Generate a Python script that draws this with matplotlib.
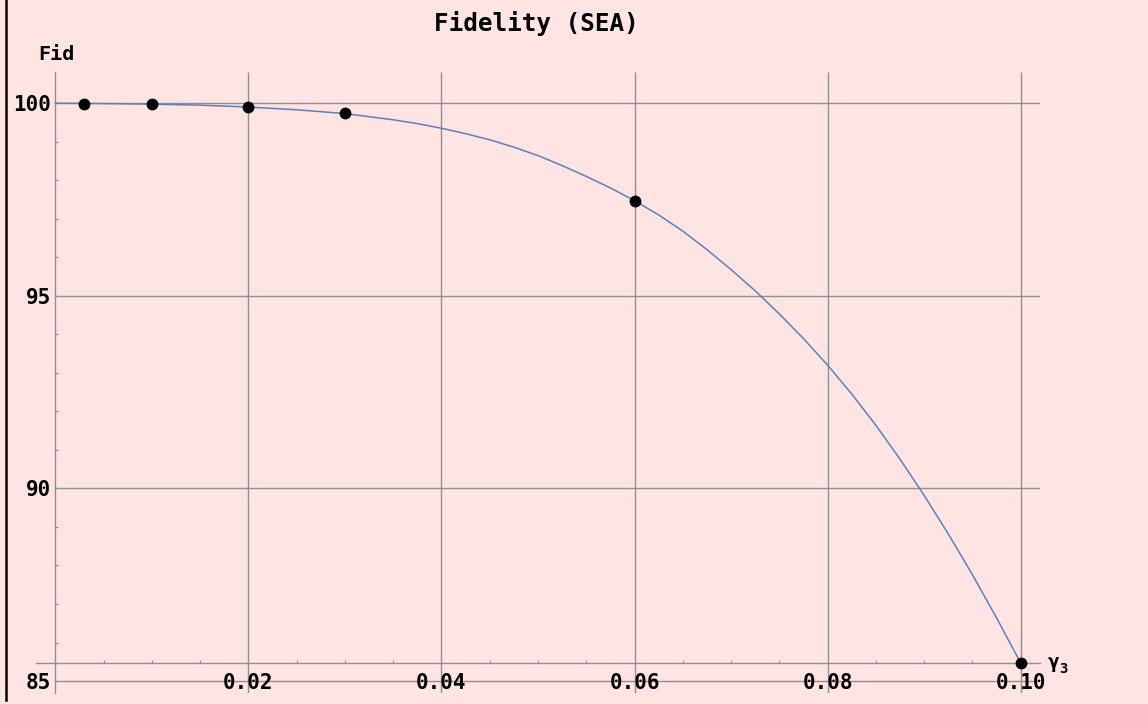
"""Fidelity (SEA) curve versus gamma_3, Mathematica-like styling."""

import matplotlib
matplotlib.use("Agg")
import matplotlib.pyplot as plt
from matplotlib.lines import Line2D
from matplotlib.transforms import offset_copy

# curve
curve_gamma = [0.0, 0.005, 0.01, 0.015, 0.02, 0.025, 0.03, 0.035, 0.0375, 0.04,
               0.0425, 0.045, 0.0475, 0.05, 0.0525, 0.055, 0.0575, 0.06, 0.0625,
               0.065, 0.0675, 0.07, 0.0725, 0.075, 0.0775, 0.08, 0.0825, 0.085,
               0.0875, 0.09, 0.0925, 0.095, 0.0975, 0.1]
curve_fid = [100.0, 99.99, 99.975, 99.95, 99.90, 99.83, 99.73, 99.57, 99.47, 99.35,
             99.21, 99.05, 98.86, 98.64, 98.38, 98.10, 97.80, 97.47, 97.10,
             96.68, 96.20, 95.68, 95.13, 94.53, 93.89, 93.20, 92.45, 91.64,
             90.76, 89.82, 88.82, 87.76, 86.64, 85.47]

# computed points
point_gamma = [0.003, 0.01, 0.02, 0.03, 0.06, 0.10]
point_fid = [99.98, 99.97, 99.90, 99.74, 97.46, 85.47]

x_ticks = [0.02, 0.04, 0.06, 0.08, 0.10]
x_labels = ["0.02", "0.04", "0.06", "0.08", "0.10"]
y_ticks = [85, 90, 95, 100]
y_labels = ["85", "90", "95", "100"]

BG = "#FFE4E4"
GRID = "#8F8F8F"
FONT = "DejaVu Sans Mono"
W, H = 1148, 704

plt.rcParams["font.family"] = [FONT]

xlim = (-0.002, 0.102)
ylim = (84.69, 100.81)
axis_y = 85.47

fig = plt.figure(figsize=(W / 100, H / 100), dpi=100, facecolor=BG)
ax = fig.add_axes([36 / W, 11 / H, 1004 / W, 621 / H])
ax.set_facecolor(BG)
ax.set_xlim(*xlim)
ax.set_ylim(*ylim)

# grid lines only over the plot range
ax.hlines(y_ticks, 0, xlim[1], colors=GRID, lw=1.0, zorder=1)
ax.vlines(x_ticks, ylim[0], ylim[1], colors=GRID, lw=1.0, zorder=1)

ax.plot(curve_gamma, curve_fid, color="#5E81B5", lw=1.1, zorder=3,
        solid_joinstyle="round")
ax.plot(point_gamma, point_fid, "o", color="black", ms=7.5, zorder=4,
        clip_on=False)

for side in ("top", "right"):
    ax.spines[side].set_visible(False)
ax.spines["left"].set_position(("data", 0))
ax.spines["bottom"].set_position(("data", axis_y))
for side in ("left", "bottom"):
    ax.spines[side].set_color(GRID)
    ax.spines[side].set_linewidth(1.0)

# minor ticks on the axes, major labels drawn as text
ax.set_xticks([v / 1000 for v in range(5, 100, 5) if v % 20], minor=True)
ax.set_yticks([v for v in range(85, 101) if v % 5], minor=True)
ax.set_xticks([])
ax.set_yticks([])
ax.tick_params(which="minor", direction="in", length=2.5, width=0.8,
               color=GRID)

down = offset_copy(ax.transData, fig=fig, x=0, y=-2, units="dots")
for v, s in zip(x_ticks, x_labels):
    ax.text(v, 85, s, ha="center", va="center", fontsize=15,
            fontweight="bold", zorder=5, transform=down)
left_shift = offset_copy(ax.transData, fig=fig, x=-4, y=-2, units="dots")
for v, s in zip(y_ticks, y_labels):
    ax.text(0, v, s, ha="right", va="center", fontsize=15,
            fontweight="bold", transform=left_shift, clip_on=False)

fig.text(536 / W, 1 - 24 / H, "Fidelity (SEA)", ha="center", va="center",
         fontsize=17.5, fontweight="bold")
fig.text(56 / W, 1 - 54 / H, "Fid", ha="center", va="center",
         fontsize=14.5, fontweight="bold")
fig.text(1047 / W, 1 - 662 / H, "γ", ha="left", va="center",
         fontsize=14, fontweight="bold")
fig.text(1059 / W, 1 - 669 / H, "3", ha="left", va="center",
         fontsize=10, fontweight="bold")

# dark bar at the left edge of the image
fig.add_artist(Line2D([6 / W, 6 / W], [4 / H, 1], transform=fig.transFigure,
                      color="black", lw=1.8))

fig.savefig("out.png", dpi=100, facecolor=BG)
